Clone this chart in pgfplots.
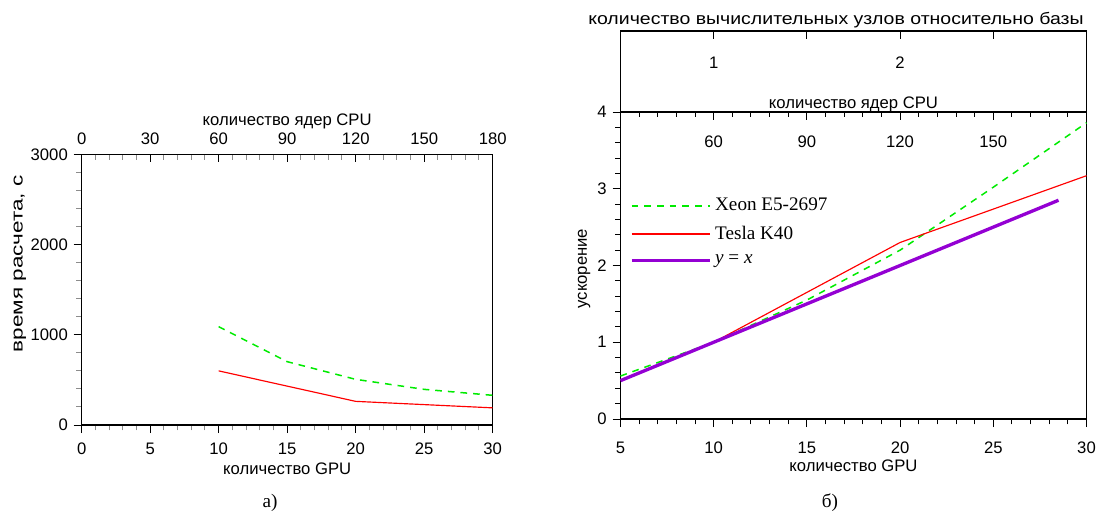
\documentclass[border=0pt]{standalone}
\usepackage{fontspec}
\setmainfont{Liberation Sans}
\newfontfamily\serif{Liberation Serif}
\usepackage{graphicx}
\usepackage{pgfplots}
\pgfplotsset{compat=1.18}
\definecolor{xgreen}{RGB}{0,235,0}
\definecolor{kred}{RGB}{255,0,0}
\definecolor{ypurple}{RGB}{148,0,211}

\pgfplotstableread{
x y
10 1090
15 702
20 506
25 395
30 329
}\lgreen
\pgfplotstableread{
x y
10 600
20 262
30 190
}\lred
\pgfplotstableread{
x y
5 0.56
10 1.0
15 1.55
20 2.2
25 3.02
30 3.86
}\rgreen
\pgfplotstableread{
x y
10 1.0
20 2.3
30 3.17
}\rred
\pgfplotstableread{
x y
5 0.5
28.5 2.85
}\rpurple

\pgfplotsset{
  base/.style={
    scale only axis,
    /pgf/number format/assume math mode=true,
    /pgf/number format/1000 sep={},
    tick label style={font=\fontsize{10}{12}\selectfont},
    label style={font=\fontsize{10}{12}\selectfont},
    major tick length=4.8pt,
    minor tick length=3.2pt,
    tick style={line width=0.6pt, black},
    axis line style={line width=0.8pt},
    clip=false,
  },
  gline/.style={color=xgreen, line width=0.9pt, dash pattern=on 4pt off 3.6pt},
  rline/.style={color=kred, line width=0.7pt},
  pline/.style={color=ypurple, line width=2pt},
}

\begin{document}
\begin{tikzpicture}
\useasboundingbox (0,0) rectangle (659.4pt,306pt);

% ---------- left panel ----------
\begin{axis}[base,
  at={(49.0pt,51.0pt)}, anchor=south west,
  width=246.6pt, height=162.4pt,
  xmin=0, xmax=30, ymin=0, ymax=3000,
  xtick={0,5,...,30}, ytick={0,1000,2000,3000},
  minor x tick num=4, minor y tick num=4,
  xtick pos=left, ytick pos=left,
  tick align=outside,
  minor tick style={black!45},
  xticklabel style={anchor=base, yshift=-12.6pt},
  xlabel={количество GPU},
  xlabel style={at={(axis description cs:0.5,-0.1847)}, anchor=base},
  ylabel={\scalebox{1.35}[1]{время расчета, с}},
  ylabel style={at={(axis description cs:-0.1436,0.595)}, anchor=base},
]
\addplot[gline] table {\lgreen};
\addplot[rline] table {\lred};
\end{axis}
\begin{axis}[base,
  at={(49.0pt,51.0pt)}, anchor=south west,
  width=246.6pt, height=162.4pt,
  xmin=0, xmax=180, ymin=0, ymax=1,
  axis x line*=top, axis y line=none,
  xtick={0,30,...,180}, minor x tick num=4,
  tick align=inside,
  minor tick style={black!45},
  xticklabel style={anchor=base, yshift=5.6pt},
  xlabel={количество ядер CPU},
  xlabel style={at={(axis description cs:0.5,1.1082)}, anchor=base},
]
\end{axis}

% ---------- right panel ----------
\begin{axis}[base,
  at={(372.3pt,54.6pt)}, anchor=south west,
  width=279.6pt, height=184.2pt,
  xmin=5, xmax=30, ymin=0, ymax=4,
  xtick={5,10,...,30}, ytick={0,1,2,3,4},
  minor x tick num=4, minor y tick num=4,
  xtick pos=left, ytick pos=left,
  tick align=outside,
  xticklabel style={anchor=base, yshift=-16pt},
  xlabel={количество GPU},
  xlabel style={at={(axis description cs:0.5,-0.1726)}, anchor=base},
  ylabel={ускорение},
  ylabel style={at={(axis description cs:-0.0719,0.49)}, anchor=base},
  legend style={draw=none, fill=none, font=\serif\fontsize{11.5}{13}\selectfont,
    at={(axis description cs:0.02,0.731)}, anchor=north west,
    row sep=3.6pt, inner sep=0pt},
  legend cell align=left,
  legend image code/.code={\draw[#1] (0pt,0pt) -- (44pt,0pt); \path (0pt,0pt) -- (47pt,0pt);},
]
\addplot[gline] table {\rgreen};
\addlegendentry{Xeon E5-2697}
\addplot[rline] table {\rred};
\addlegendentry{Tesla K40}
\addplot[pline] table {\rpurple};
\addlegendentry{\textit{y} = \textit{x}}
\end{axis}
\begin{axis}[base,
  at={(372.3pt,54.6pt)}, anchor=south west,
  width=279.6pt, height=184.2pt,
  xmin=30, xmax=180, ymin=0, ymax=1,
  axis x line*=top, axis y line=none,
  xtick={60,90,120,150}, minor xtick={36,42,48,54,66,72,78,84,96,102,108,114,126,132,138,144,156,162,168,174},
  tick align=inside,
  xticklabel style={anchor=base, yshift=-21.2pt},
  xlabel={количество ядер CPU},
  xlabel style={at={(axis description cs:0.5,1.0101)}, anchor=base},
]
\end{axis}
\begin{axis}[base,
  at={(372.3pt,238.8pt)}, anchor=south west,
  width=279.6pt, height=48.6pt,
  xmin=0.5, xmax=3, ymin=0, ymax=1,
  xtick={1,1.5,2,2.5}, xticklabels={1,,2,}, ytick=\empty,
  xtick pos=right, tick align=inside,
  xticklabel pos=right,
  xticklabel style={anchor=base, yshift=-22.4pt},
  xlabel={\scalebox{1.17}[1]{количество вычислительных узлов относительно базы}},
  xlabel style={at={(axis description cs:0.4625,1.0827)}, anchor=base},
]
\end{axis}

\node[anchor=base, font=\serif\fontsize{11.5}{13}\selectfont] at (162pt,1.8pt) {а)};
\node[anchor=base, font=\serif\fontsize{11.5}{13}\selectfont] at (498pt,1.8pt) {б)};
\end{tikzpicture}
\end{document}
